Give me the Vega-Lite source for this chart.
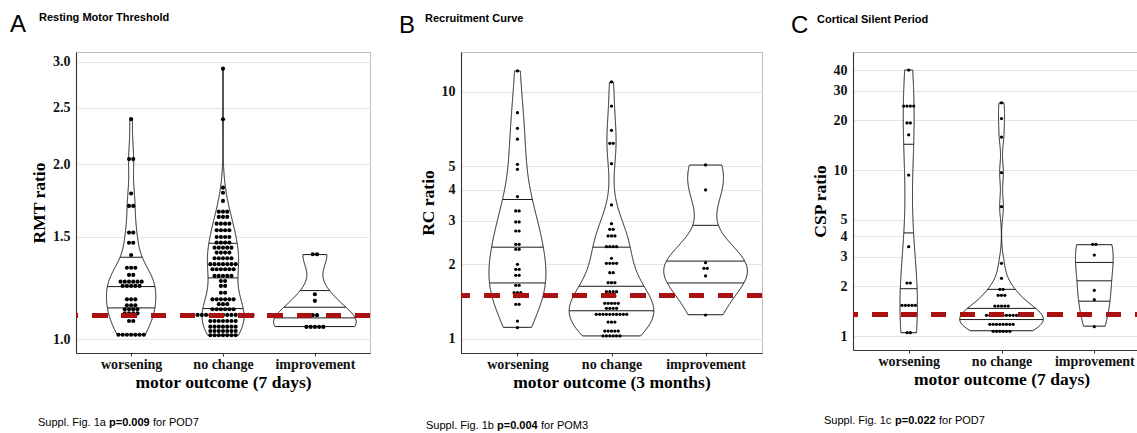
{
"$schema": "https://vega.github.io/schema/vega-lite/v6.json",
"padding": {"left": 10, "top": 11, "right": -9, "bottom": 0},
"background": "white",
"spacing": 26,
"config": {
  "view": {"stroke": "#bdbdbd", "strokeWidth": 1},
  "axis": {"labelFont": "Liberation Serif", "labelFontWeight": "bold", "labelFontSize": 14, "labelColor": "#111", "titleFont": "Liberation Serif", "titleFontWeight": "bold", "titleFontSize": 17.5, "titleColor": "#000", "domainColor": "#333", "domainWidth": 1.1, "tickColor": "#333", "tickSize": 3, "labelPadding": 3, "gridColor": "#e4e4e4", "gridWidth": 1},
  "axisY": {"titlePadding": 4, "ticks": false, "labelPadding": 6},
  "axisX": {"titlePadding": 2, "labelPadding": 1, "grid": false},
  "title": {"color": "#000", "frame": "group", "anchor": "start", "font": "Liberation Sans"}
},
"datasets": {
"A": [
{"outcome":"worsening","ratio":2.39},{"outcome":"worsening","ratio":2.04},{"outcome":"worsening","ratio":2.04},{"outcome":"worsening","ratio":1.78},{"outcome":"worsening","ratio":1.695},{"outcome":"worsening","ratio":1.695},{"outcome":"worsening","ratio":1.525},{"outcome":"worsening","ratio":1.525},{"outcome":"worsening","ratio":1.465},{"outcome":"worsening","ratio":1.465},{"outcome":"worsening","ratio":1.396},{"outcome":"worsening","ratio":1.327},{"outcome":"worsening","ratio":1.327},{"outcome":"worsening","ratio":1.327},{"outcome":"worsening","ratio":1.29},{"outcome":"worsening","ratio":1.29},
{"outcome":"worsening","ratio":1.256},{"outcome":"worsening","ratio":1.256},{"outcome":"worsening","ratio":1.256},{"outcome":"worsening","ratio":1.256},{"outcome":"worsening","ratio":1.256},{"outcome":"worsening","ratio":1.256},
{"outcome":"worsening","ratio":1.235},{"outcome":"worsening","ratio":1.235},{"outcome":"worsening","ratio":1.235},{"outcome":"worsening","ratio":1.235},{"outcome":"worsening","ratio":1.235},
{"outcome":"worsening","ratio":1.171},{"outcome":"worsening","ratio":1.171},{"outcome":"worsening","ratio":1.171},{"outcome":"worsening","ratio":1.144},{"outcome":"worsening","ratio":1.144},{"outcome":"worsening","ratio":1.144},
{"outcome":"worsening","ratio":1.126},{"outcome":"worsening","ratio":1.126},{"outcome":"worsening","ratio":1.126},{"outcome":"worsening","ratio":1.126},{"outcome":"worsening","ratio":1.108},{"outcome":"worsening","ratio":1.108},{"outcome":"worsening","ratio":1.108},{"outcome":"worsening","ratio":1.108},
{"outcome":"worsening","ratio":1.075},{"outcome":"worsening","ratio":1.075},
{"outcome":"worsening","ratio":1.018},{"outcome":"worsening","ratio":1.018},{"outcome":"worsening","ratio":1.018},{"outcome":"worsening","ratio":1.018},{"outcome":"worsening","ratio":1.018},{"outcome":"worsening","ratio":1.018},{"outcome":"worsening","ratio":1.018},
{"outcome":"no change","ratio":2.918},{"outcome":"no change","ratio":2.388},{"outcome":"no change","ratio":1.822},{"outcome":"no change","ratio":1.786},{"outcome":"no change","ratio":1.729},
{"outcome":"no change","ratio":1.657},{"outcome":"no change","ratio":1.657},{"outcome":"no change","ratio":1.657},
{"outcome":"no change","ratio":1.623},{"outcome":"no change","ratio":1.623},{"outcome":"no change","ratio":1.623},
{"outcome":"no change","ratio":1.58},{"outcome":"no change","ratio":1.58},{"outcome":"no change","ratio":1.58},{"outcome":"no change","ratio":1.58},
{"outcome":"no change","ratio":1.539},{"outcome":"no change","ratio":1.539},{"outcome":"no change","ratio":1.539},{"outcome":"no change","ratio":1.539},
{"outcome":"no change","ratio":1.499},{"outcome":"no change","ratio":1.499},{"outcome":"no change","ratio":1.499},{"outcome":"no change","ratio":1.499},
{"outcome":"no change","ratio":1.466},{"outcome":"no change","ratio":1.466},{"outcome":"no change","ratio":1.466},{"outcome":"no change","ratio":1.466},
{"outcome":"no change","ratio":1.437},{"outcome":"no change","ratio":1.437},{"outcome":"no change","ratio":1.437},{"outcome":"no change","ratio":1.437},{"outcome":"no change","ratio":1.437},
{"outcome":"no change","ratio":1.409},{"outcome":"no change","ratio":1.409},{"outcome":"no change","ratio":1.409},{"outcome":"no change","ratio":1.409},
{"outcome":"no change","ratio":1.378},{"outcome":"no change","ratio":1.378},{"outcome":"no change","ratio":1.378},{"outcome":"no change","ratio":1.378},{"outcome":"no change","ratio":1.378},
{"outcome":"no change","ratio":1.346},{"outcome":"no change","ratio":1.346},{"outcome":"no change","ratio":1.346},{"outcome":"no change","ratio":1.346},{"outcome":"no change","ratio":1.346},{"outcome":"no change","ratio":1.346},{"outcome":"no change","ratio":1.346},
{"outcome":"no change","ratio":1.319},{"outcome":"no change","ratio":1.319},{"outcome":"no change","ratio":1.319},{"outcome":"no change","ratio":1.319},{"outcome":"no change","ratio":1.319},{"outcome":"no change","ratio":1.319},
{"outcome":"no change","ratio":1.285},{"outcome":"no change","ratio":1.285},{"outcome":"no change","ratio":1.285},{"outcome":"no change","ratio":1.285},{"outcome":"no change","ratio":1.285},
{"outcome":"no change","ratio":1.259},{"outcome":"no change","ratio":1.259},{"outcome":"no change","ratio":1.235},{"outcome":"no change","ratio":1.235},{"outcome":"no change","ratio":1.202},{"outcome":"no change","ratio":1.202},
{"outcome":"no change","ratio":1.171},{"outcome":"no change","ratio":1.171},{"outcome":"no change","ratio":1.171},{"outcome":"no change","ratio":1.171},{"outcome":"no change","ratio":1.171},{"outcome":"no change","ratio":1.171},
{"outcome":"no change","ratio":1.149},{"outcome":"no change","ratio":1.149},{"outcome":"no change","ratio":1.149},
{"outcome":"no change","ratio":1.126},{"outcome":"no change","ratio":1.126},{"outcome":"no change","ratio":1.126},{"outcome":"no change","ratio":1.126},{"outcome":"no change","ratio":1.126},{"outcome":"no change","ratio":1.126},
{"outcome":"no change","ratio":1.101},{"outcome":"no change","ratio":1.101},{"outcome":"no change","ratio":1.101},{"outcome":"no change","ratio":1.101},{"outcome":"no change","ratio":1.101},{"outcome":"no change","ratio":1.101},{"outcome":"no change","ratio":1.101},{"outcome":"no change","ratio":1.101},{"outcome":"no change","ratio":1.101},{"outcome":"no change","ratio":1.101},{"outcome":"no change","ratio":1.101},{"outcome":"no change","ratio":1.101},{"outcome":"no change","ratio":1.101},{"outcome":"no change","ratio":1.101},{"outcome":"no change","ratio":1.101},
{"outcome":"no change","ratio":1.075},{"outcome":"no change","ratio":1.075},{"outcome":"no change","ratio":1.075},{"outcome":"no change","ratio":1.075},{"outcome":"no change","ratio":1.075},{"outcome":"no change","ratio":1.075},{"outcome":"no change","ratio":1.075},
{"outcome":"no change","ratio":1.051},{"outcome":"no change","ratio":1.051},{"outcome":"no change","ratio":1.051},{"outcome":"no change","ratio":1.051},{"outcome":"no change","ratio":1.051},{"outcome":"no change","ratio":1.051},{"outcome":"no change","ratio":1.051},
{"outcome":"no change","ratio":1.033},{"outcome":"no change","ratio":1.033},{"outcome":"no change","ratio":1.033},{"outcome":"no change","ratio":1.033},{"outcome":"no change","ratio":1.033},{"outcome":"no change","ratio":1.033},{"outcome":"no change","ratio":1.033},
{"outcome":"no change","ratio":1.016},{"outcome":"no change","ratio":1.016},{"outcome":"no change","ratio":1.016},{"outcome":"no change","ratio":1.016},{"outcome":"no change","ratio":1.016},{"outcome":"no change","ratio":1.016},{"outcome":"no change","ratio":1.016},
{"outcome":"improvement","ratio":1.4},{"outcome":"improvement","ratio":1.4},{"outcome":"improvement","ratio":1.195},{"outcome":"improvement","ratio":1.164},{"outcome":"improvement","ratio":1.1},{"outcome":"improvement","ratio":1.1},
{"outcome":"improvement","ratio":1.05},{"outcome":"improvement","ratio":1.05},{"outcome":"improvement","ratio":1.05},{"outcome":"improvement","ratio":1.05},{"outcome":"improvement","ratio":1.05}
],
"B": [
{"outcome":"worsening","ratio":12.13},{"outcome":"worsening","ratio":8.22},{"outcome":"worsening","ratio":7.11},{"outcome":"worsening","ratio":6.42},{"outcome":"worsening","ratio":5.08},{"outcome":"worsening","ratio":4.85},{"outcome":"worsening","ratio":3.76},
{"outcome":"worsening","ratio":3.29},{"outcome":"worsening","ratio":3.29},{"outcome":"worsening","ratio":2.968},{"outcome":"worsening","ratio":2.968},{"outcome":"worsening","ratio":2.729},{"outcome":"worsening","ratio":2.729},{"outcome":"worsening","ratio":2.411},{"outcome":"worsening","ratio":2.411},{"outcome":"worsening","ratio":2.301},{"outcome":"worsening","ratio":2.301},
{"outcome":"worsening","ratio":2.001},{"outcome":"worsening","ratio":1.91},{"outcome":"worsening","ratio":1.91},{"outcome":"worsening","ratio":1.806},{"outcome":"worsening","ratio":1.806},{"outcome":"worsening","ratio":1.645},{"outcome":"worsening","ratio":1.645},
{"outcome":"worsening","ratio":1.536},{"outcome":"worsening","ratio":1.536},{"outcome":"worsening","ratio":1.536},{"outcome":"worsening","ratio":1.48},{"outcome":"worsening","ratio":1.48},{"outcome":"worsening","ratio":1.378},{"outcome":"worsening","ratio":1.378},{"outcome":"worsening","ratio":1.179},{"outcome":"worsening","ratio":1.108},
{"outcome":"no change","ratio":10.95},{"outcome":"no change","ratio":8.75},{"outcome":"no change","ratio":6.98},{"outcome":"no change","ratio":6.18},{"outcome":"no change","ratio":6.18},{"outcome":"no change","ratio":5.11},{"outcome":"no change","ratio":3.48},{"outcome":"no change","ratio":2.921},
{"outcome":"no change","ratio":2.773},{"outcome":"no change","ratio":2.773},{"outcome":"no change","ratio":2.605},{"outcome":"no change","ratio":2.605},{"outcome":"no change","ratio":2.605},
{"outcome":"no change","ratio":2.358},{"outcome":"no change","ratio":2.358},{"outcome":"no change","ratio":2.358},{"outcome":"no change","ratio":2.358},{"outcome":"no change","ratio":2.116},
{"outcome":"no change","ratio":2.019},{"outcome":"no change","ratio":2.019},{"outcome":"no change","ratio":2.019},{"outcome":"no change","ratio":2.019},{"outcome":"no change","ratio":1.85},{"outcome":"no change","ratio":1.85},
{"outcome":"no change","ratio":1.685},{"outcome":"no change","ratio":1.685},{"outcome":"no change","ratio":1.685},{"outcome":"no change","ratio":1.55},{"outcome":"no change","ratio":1.55},{"outcome":"no change","ratio":1.55},{"outcome":"no change","ratio":1.55},
{"outcome":"no change","ratio":1.489},{"outcome":"no change","ratio":1.489},{"outcome":"no change","ratio":1.489},
{"outcome":"no change","ratio":1.391},{"outcome":"no change","ratio":1.391},{"outcome":"no change","ratio":1.391},{"outcome":"no change","ratio":1.391},{"outcome":"no change","ratio":1.391},
{"outcome":"no change","ratio":1.327},{"outcome":"no change","ratio":1.327},{"outcome":"no change","ratio":1.327},{"outcome":"no change","ratio":1.327},
{"outcome":"no change","ratio":1.255},{"outcome":"no change","ratio":1.255},{"outcome":"no change","ratio":1.255},{"outcome":"no change","ratio":1.255},{"outcome":"no change","ratio":1.255},{"outcome":"no change","ratio":1.255},{"outcome":"no change","ratio":1.255},{"outcome":"no change","ratio":1.255},{"outcome":"no change","ratio":1.255},{"outcome":"no change","ratio":1.255},
{"outcome":"no change","ratio":1.168},{"outcome":"no change","ratio":1.168},{"outcome":"no change","ratio":1.168},
{"outcome":"no change","ratio":1.074},{"outcome":"no change","ratio":1.074},{"outcome":"no change","ratio":1.074},{"outcome":"no change","ratio":1.074},{"outcome":"no change","ratio":1.074},
{"outcome":"no change","ratio":1.026},{"outcome":"no change","ratio":1.026},{"outcome":"no change","ratio":1.026},{"outcome":"no change","ratio":1.026},{"outcome":"no change","ratio":1.026},{"outcome":"no change","ratio":1.026},
{"outcome":"improvement","ratio":5.05},{"outcome":"improvement","ratio":4.0},{"outcome":"improvement","ratio":2.031},{"outcome":"improvement","ratio":1.928},{"outcome":"improvement","ratio":1.928},{"outcome":"improvement","ratio":1.794},{"outcome":"improvement","ratio":1.247}
],
"C": [
{"outcome":"worsening","ratio":40},{"outcome":"worsening","ratio":24.3},{"outcome":"worsening","ratio":24.3},{"outcome":"worsening","ratio":24.3},{"outcome":"worsening","ratio":24.3},{"outcome":"worsening","ratio":19.2},{"outcome":"worsening","ratio":19.2},{"outcome":"worsening","ratio":16.3},{"outcome":"worsening","ratio":9.33},{"outcome":"worsening","ratio":3.45},
{"outcome":"worsening","ratio":2.086},{"outcome":"worsening","ratio":2.086},{"outcome":"worsening","ratio":1.531},{"outcome":"worsening","ratio":1.531},{"outcome":"worsening","ratio":1.531},{"outcome":"worsening","ratio":1.531},{"outcome":"worsening","ratio":1.531},
{"outcome":"worsening","ratio":1.363},{"outcome":"worsening","ratio":1.363},{"outcome":"worsening","ratio":1.363},{"outcome":"worsening","ratio":1.363},{"outcome":"worsening","ratio":1.047},{"outcome":"worsening","ratio":1.047},
{"outcome":"no change","ratio":25.4},{"outcome":"no change","ratio":20.4},{"outcome":"no change","ratio":15.8},{"outcome":"no change","ratio":9.63},{"outcome":"no change","ratio":6.01},{"outcome":"no change","ratio":2.74},{"outcome":"no change","ratio":2.226},
{"outcome":"no change","ratio":1.911},{"outcome":"no change","ratio":1.911},{"outcome":"no change","ratio":1.758},{"outcome":"no change","ratio":1.758},{"outcome":"no change","ratio":1.758},
{"outcome":"no change","ratio":1.516},{"outcome":"no change","ratio":1.516},{"outcome":"no change","ratio":1.516},{"outcome":"no change","ratio":1.516},{"outcome":"no change","ratio":1.516},
{"outcome":"no change","ratio":1.333},{"outcome":"no change","ratio":1.333},{"outcome":"no change","ratio":1.333},{"outcome":"no change","ratio":1.333},{"outcome":"no change","ratio":1.333},{"outcome":"no change","ratio":1.333},{"outcome":"no change","ratio":1.333},{"outcome":"no change","ratio":1.333},{"outcome":"no change","ratio":1.333},{"outcome":"no change","ratio":1.333},
{"outcome":"no change","ratio":1.176},{"outcome":"no change","ratio":1.176},{"outcome":"no change","ratio":1.176},{"outcome":"no change","ratio":1.176},{"outcome":"no change","ratio":1.176},{"outcome":"no change","ratio":1.176},{"outcome":"no change","ratio":1.176},{"outcome":"no change","ratio":1.176},
{"outcome":"no change","ratio":1.067},{"outcome":"no change","ratio":1.067},{"outcome":"no change","ratio":1.067},{"outcome":"no change","ratio":1.067},{"outcome":"no change","ratio":1.067},{"outcome":"no change","ratio":1.067},
{"outcome":"improvement","ratio":3.57},{"outcome":"improvement","ratio":3.57},{"outcome":"improvement","ratio":3.075},{"outcome":"improvement","ratio":1.885},{"outcome":"improvement","ratio":1.654},{"outcome":"improvement","ratio":1.138}
]
},
"hconcat": [
{
 "title": {"text": "A", "fontSize": 24, "fontWeight": "normal", "dx": -66, "offset": -25.6},
 "vconcat": [{
  "title": {"text": "for POD7", "orient": "bottom", "fontSize": 11, "fontWeight": "normal", "dx": 77, "offset": -11},
  "vconcat": [{
   "title": {"text": "p=0.009", "orient": "bottom", "fontSize": 11, "fontWeight": "bold", "dx": 33, "offset": -11},
   "vconcat": [{
    "title": {"text": "Suppl. Fig. 1a", "orient": "bottom", "fontSize": 11, "fontWeight": "normal", "dx": -38, "offset": 26},
    "vconcat": [{
     "title": {"text": "Resting Motor Threshold", "fontSize": 11, "fontWeight": "bold", "dx": -37, "offset": 28.9},
     "width": 294, "height": 301,
     "data": {"name": "A"},
     "layer": [
      {
       "transform": [
        {"calculate": "log(datum.ratio) / LN10", "as": "lr"},
        {"joinaggregate": [{"op": "min", "field": "lr", "as": "mn"}, {"op": "max", "field": "lr", "as": "mx"}], "groupby": ["outcome"]},
        {"density": "lr", "groupby": ["outcome", "mn", "mx"], "steps": 400, "as": ["lv", "dens"]},
        {"filter": "datum.lv >= datum.mn - 1e-9 && datum.lv <= datum.mx + 1e-9"},
        {"joinaggregate": [{"op": "max", "field": "dens", "as": "maxd"}]},
        {"calculate": "indexof(['worsening', 'no change', 'improvement'], datum.outcome) + 1", "as": "ci"},
        {"calculate": "datum.ci - 0.45 * datum.dens / datum.maxd", "as": "xl"},
        {"calculate": "datum.ci + 0.45 * datum.dens / datum.maxd", "as": "xr"},
        {"calculate": "pow(10, datum.lv)", "as": "yv"}
       ],
       "mark": {"type": "area", "orient": "horizontal", "fill": "white", "stroke": "#1a1a1a", "strokeWidth": 1},
       "encoding": {
        "y": {"field": "yv", "type": "quantitative", "scale": {"type": "log", "domain": [0.947, 3.117], "nice": false}, "axis": {"title": "RMT ratio", "values": [1, 1.5, 2, 2.5, 3], "format": ".1f", "grid": true}},
        "x": {"field": "xl", "type": "quantitative", "scale": {"domain": [0.4, 3.6], "nice": false, "zero": false}, "axis": {"title": "motor outcome (7 days)", "values": [1, 2, 3], "labelExpr": "['worsening', 'no change', 'improvement'][datum.value - 1]", "labelFlush": false, "grid": false}},
        "x2": {"field": "xr"},
        "detail": {"field": "outcome"}
       }
      },
      {
       "transform": [
        {"calculate": "log(datum.ratio) / LN10", "as": "lr"},
        {"joinaggregate": [{"op": "min", "field": "lr", "as": "mn"}, {"op": "max", "field": "lr", "as": "mx"}], "groupby": ["outcome"]},
        {"density": "lr", "groupby": ["outcome", "mn", "mx"], "steps": 400, "as": ["lv", "dens"]},
        {"filter": "datum.lv >= datum.mn - 1e-9 && datum.lv <= datum.mx + 1e-9"},
        {"joinaggregate": [{"op": "max", "field": "dens", "as": "maxd"}]},
        {"window": [{"op": "sum", "field": "dens", "as": "cum"}], "groupby": ["outcome"], "sort": [{"field": "lv"}]},
        {"joinaggregate": [{"op": "sum", "field": "dens", "as": "tot"}], "groupby": ["outcome"]},
        {"calculate": "datum.cum / datum.tot", "as": "cdf"},
        {"window": [{"op": "lag", "field": "cdf", "as": "pcdf"}], "groupby": ["outcome"], "sort": [{"field": "lv"}]},
        {"filter": "(datum.pcdf < 0.25 && datum.cdf >= 0.25) || (datum.pcdf < 0.5 && datum.cdf >= 0.5) || (datum.pcdf < 0.75 && datum.cdf >= 0.75)"},
        {"calculate": "indexof(['worsening', 'no change', 'improvement'], datum.outcome) + 1", "as": "ci"},
        {"calculate": "datum.ci - 0.45 * datum.dens / datum.maxd", "as": "xl"},
        {"calculate": "datum.ci + 0.45 * datum.dens / datum.maxd", "as": "xr"},
        {"calculate": "pow(10, datum.lv)", "as": "yv"}
       ],
       "mark": {"type": "rule", "stroke": "#1a1a1a", "strokeWidth": 1},
       "encoding": {
        "y": {"field": "yv", "type": "quantitative", "scale": {"type": "log", "domain": [0.947, 3.117], "nice": false}, "axis": {"title": "RMT ratio", "values": [1, 1.5, 2, 2.5, 3], "format": ".1f", "grid": true}},
        "x": {"field": "xl", "type": "quantitative", "scale": {"domain": [0.4, 3.6], "nice": false, "zero": false}, "axis": {"title": "motor outcome (7 days)", "values": [1, 2, 3], "labelExpr": "['worsening', 'no change', 'improvement'][datum.value - 1]", "labelFlush": false, "grid": false}},
        "x2": {"field": "xr"}
       }
      },
      {
       "transform": [
        {"calculate": "indexof(['worsening', 'no change', 'improvement'], datum.outcome) + 1", "as": "ci"},
        {"window": [{"op": "row_number", "as": "k"}], "groupby": ["outcome", "ratio"]},
        {"joinaggregate": [{"op": "count", "as": "n"}], "groupby": ["outcome", "ratio"]},
        {"calculate": "datum.ci + (datum.k - (datum.n + 1) / 2) * 0.046", "as": "xp"}
       ],
       "mark": {"type": "circle", "fill": "#000", "opacity": 1, "size": 17},
       "encoding": {
        "y": {"field": "ratio", "type": "quantitative", "scale": {"type": "log", "domain": [0.947, 3.117], "nice": false}, "axis": {"title": "RMT ratio", "values": [1, 1.5, 2, 2.5, 3], "format": ".1f", "grid": true}},
        "x": {"field": "xp", "type": "quantitative", "scale": {"domain": [0.4, 3.6], "nice": false, "zero": false}, "axis": {"title": "motor outcome (7 days)", "values": [1, 2, 3], "labelExpr": "['worsening', 'no change', 'improvement'][datum.value - 1]", "labelFlush": false, "grid": false}}
       }
      },
      {
       "mark": {"type": "rule", "stroke": "#aa1111", "strokeWidth": 4, "strokeDash": [14.6, 14.6]},
       "encoding": {"y": {"datum": 1.1, "type": "quantitative", "scale": {"type": "log", "domain": [0.947, 3.117], "nice": false}, "axis": {"title": "RMT ratio", "values": [1, 1.5, 2, 2.5, 3], "format": ".1f", "grid": true}}}
      }
     ]
    }]
   }]
  }]
 }]
},
{
 "title": {"text": "B", "fontSize": 24, "fontWeight": "normal", "dx": -62, "offset": -25.8},
 "vconcat": [{
  "title": {"text": "for POM3", "orient": "bottom", "fontSize": 11, "fontWeight": "normal", "dx": 80, "offset": -11},
  "vconcat": [{
   "title": {"text": "p=0.004", "orient": "bottom", "fontSize": 11, "fontWeight": "bold", "dx": 36, "offset": -11},
   "vconcat": [{
    "title": {"text": "Suppl. Fig. 1b", "orient": "bottom", "fontSize": 11, "fontWeight": "normal", "dx": -35, "offset": 29},
    "vconcat": [{
     "title": {"text": "Recruitment Curve", "fontSize": 11, "fontWeight": "bold", "dx": -36, "offset": 28.2},
     "width": 301, "height": 301,
     "data": {"name": "B"},
     "layer": [
      {
       "transform": [
        {"calculate": "log(datum.ratio) / LN10", "as": "lr"},
        {"joinaggregate": [{"op": "min", "field": "lr", "as": "mn"}, {"op": "max", "field": "lr", "as": "mx"}], "groupby": ["outcome"]},
        {"density": "lr", "groupby": ["outcome", "mn", "mx"], "steps": 400, "as": ["lv", "dens"]},
        {"filter": "datum.lv >= datum.mn - 1e-9 && datum.lv <= datum.mx + 1e-9"},
        {"joinaggregate": [{"op": "max", "field": "dens", "as": "maxd"}]},
        {"calculate": "indexof(['worsening', 'no change', 'improvement'], datum.outcome) + 1", "as": "ci"},
        {"calculate": "datum.ci - 0.45 * datum.dens / datum.maxd", "as": "xl"},
        {"calculate": "datum.ci + 0.45 * datum.dens / datum.maxd", "as": "xr"},
        {"calculate": "pow(10, datum.lv)", "as": "yv"}
       ],
       "mark": {"type": "area", "orient": "horizontal", "fill": "white", "stroke": "#1a1a1a", "strokeWidth": 1},
       "encoding": {
        "y": {"field": "yv", "type": "quantitative", "scale": {"type": "log", "domain": [0.875, 14.48], "nice": false}, "axis": {"title": "RC ratio", "values": [1, 2, 3, 4, 5, 10], "format": "d", "grid": true}},
        "x": {"field": "xl", "type": "quantitative", "scale": {"domain": [0.4, 3.6], "nice": false, "zero": false}, "axis": {"title": "motor outcome (3 months)", "values": [1, 2, 3], "labelExpr": "['worsening', 'no change', 'improvement'][datum.value - 1]", "labelFlush": false, "grid": false}},
        "x2": {"field": "xr"},
        "detail": {"field": "outcome"}
       }
      },
      {
       "transform": [
        {"calculate": "log(datum.ratio) / LN10", "as": "lr"},
        {"joinaggregate": [{"op": "min", "field": "lr", "as": "mn"}, {"op": "max", "field": "lr", "as": "mx"}], "groupby": ["outcome"]},
        {"density": "lr", "groupby": ["outcome", "mn", "mx"], "steps": 400, "as": ["lv", "dens"]},
        {"filter": "datum.lv >= datum.mn - 1e-9 && datum.lv <= datum.mx + 1e-9"},
        {"joinaggregate": [{"op": "max", "field": "dens", "as": "maxd"}]},
        {"window": [{"op": "sum", "field": "dens", "as": "cum"}], "groupby": ["outcome"], "sort": [{"field": "lv"}]},
        {"joinaggregate": [{"op": "sum", "field": "dens", "as": "tot"}], "groupby": ["outcome"]},
        {"calculate": "datum.cum / datum.tot", "as": "cdf"},
        {"window": [{"op": "lag", "field": "cdf", "as": "pcdf"}], "groupby": ["outcome"], "sort": [{"field": "lv"}]},
        {"filter": "(datum.pcdf < 0.25 && datum.cdf >= 0.25) || (datum.pcdf < 0.5 && datum.cdf >= 0.5) || (datum.pcdf < 0.75 && datum.cdf >= 0.75)"},
        {"calculate": "indexof(['worsening', 'no change', 'improvement'], datum.outcome) + 1", "as": "ci"},
        {"calculate": "datum.ci - 0.45 * datum.dens / datum.maxd", "as": "xl"},
        {"calculate": "datum.ci + 0.45 * datum.dens / datum.maxd", "as": "xr"},
        {"calculate": "pow(10, datum.lv)", "as": "yv"}
       ],
       "mark": {"type": "rule", "stroke": "#1a1a1a", "strokeWidth": 1},
       "encoding": {
        "y": {"field": "yv", "type": "quantitative", "scale": {"type": "log", "domain": [0.875, 14.48], "nice": false}, "axis": {"title": "RC ratio", "values": [1, 2, 3, 4, 5, 10], "format": "d", "grid": true}},
        "x": {"field": "xl", "type": "quantitative", "scale": {"domain": [0.4, 3.6], "nice": false, "zero": false}, "axis": {"title": "motor outcome (3 months)", "values": [1, 2, 3], "labelExpr": "['worsening', 'no change', 'improvement'][datum.value - 1]", "labelFlush": false, "grid": false}},
        "x2": {"field": "xr"}
       }
      },
      {
       "transform": [
        {"calculate": "indexof(['worsening', 'no change', 'improvement'], datum.outcome) + 1", "as": "ci"},
        {"window": [{"op": "row_number", "as": "k"}], "groupby": ["outcome", "ratio"]},
        {"joinaggregate": [{"op": "count", "as": "n"}], "groupby": ["outcome", "ratio"]},
        {"calculate": "datum.ci + (datum.k - (datum.n + 1) / 2) * 0.036", "as": "xp"}
       ],
       "mark": {"type": "circle", "fill": "#000", "opacity": 1, "size": 10.5},
       "encoding": {
        "y": {"field": "ratio", "type": "quantitative", "scale": {"type": "log", "domain": [0.875, 14.48], "nice": false}, "axis": {"title": "RC ratio", "values": [1, 2, 3, 4, 5, 10], "format": "d", "grid": true}},
        "x": {"field": "xp", "type": "quantitative", "scale": {"domain": [0.4, 3.6], "nice": false, "zero": false}, "axis": {"title": "motor outcome (3 months)", "values": [1, 2, 3], "labelExpr": "['worsening', 'no change', 'improvement'][datum.value - 1]", "labelFlush": false, "grid": false}}
       }
      },
      {
       "mark": {"type": "rule", "stroke": "#aa1111", "strokeWidth": 4, "strokeDash": [14.6, 14.6]},
       "encoding": {"y": {"datum": 1.5, "type": "quantitative", "scale": {"type": "log", "domain": [0.875, 14.48], "nice": false}, "axis": {"title": "RC ratio", "values": [1, 2, 3, 4, 5, 10], "format": "d", "grid": true}}}
      }
     ]
    }]
   }]
  }]
 }]
},
{
 "title": {"text": "C", "fontSize": 24, "fontWeight": "normal", "dx": -62, "offset": -25.1},
 "vconcat": [{
  "title": {"text": "for POD7", "orient": "bottom", "fontSize": 11, "fontWeight": "normal", "dx": 86, "offset": -11},
  "vconcat": [{
   "title": {"text": "p=0.022", "orient": "bottom", "fontSize": 11, "fontWeight": "bold", "dx": 42, "offset": -11},
   "vconcat": [{
    "title": {"text": "Suppl. Fig. 1c", "orient": "bottom", "fontSize": 11, "fontWeight": "normal", "dx": -29, "offset": 27},
    "vconcat": [{
     "title": {"text": "Cortical Silent Period", "fontSize": 11, "fontWeight": "bold", "dx": -36, "offset": 27.2},
     "width": 297, "height": 298,
     "data": {"name": "C"},
     "layer": [
      {
       "transform": [
        {"calculate": "log(datum.ratio) / LN10", "as": "lr"},
        {"joinaggregate": [{"op": "min", "field": "lr", "as": "mn"}, {"op": "max", "field": "lr", "as": "mx"}], "groupby": ["outcome"]},
        {"density": "lr", "groupby": ["outcome", "mn", "mx"], "steps": 400, "as": ["lv", "dens"]},
        {"filter": "datum.lv >= datum.mn - 1e-9 && datum.lv <= datum.mx + 1e-9"},
        {"joinaggregate": [{"op": "max", "field": "dens", "as": "maxd"}]},
        {"calculate": "indexof(['worsening', 'no change', 'improvement'], datum.outcome) + 1", "as": "ci"},
        {"calculate": "datum.ci - 0.45 * datum.dens / datum.maxd", "as": "xl"},
        {"calculate": "datum.ci + 0.45 * datum.dens / datum.maxd", "as": "xr"},
        {"calculate": "pow(10, datum.lv)", "as": "yv"}
       ],
       "mark": {"type": "area", "orient": "horizontal", "fill": "white", "stroke": "#1a1a1a", "strokeWidth": 1},
       "encoding": {
        "y": {"field": "yv", "type": "quantitative", "scale": {"type": "log", "domain": [0.8235, 51.4], "nice": false}, "axis": {"title": "CSP ratio", "values": [1, 2, 3, 4, 5, 10, 20, 30, 40], "format": "d", "grid": true}},
        "x": {"field": "xl", "type": "quantitative", "scale": {"domain": [0.4, 3.6], "nice": false, "zero": false}, "axis": {"title": "motor outcome (7 days)", "values": [1, 2, 3], "labelExpr": "['worsening', 'no change', 'improvement'][datum.value - 1]", "labelFlush": false, "grid": false}},
        "x2": {"field": "xr"},
        "detail": {"field": "outcome"}
       }
      },
      {
       "transform": [
        {"calculate": "log(datum.ratio) / LN10", "as": "lr"},
        {"joinaggregate": [{"op": "min", "field": "lr", "as": "mn"}, {"op": "max", "field": "lr", "as": "mx"}], "groupby": ["outcome"]},
        {"density": "lr", "groupby": ["outcome", "mn", "mx"], "steps": 400, "as": ["lv", "dens"]},
        {"filter": "datum.lv >= datum.mn - 1e-9 && datum.lv <= datum.mx + 1e-9"},
        {"joinaggregate": [{"op": "max", "field": "dens", "as": "maxd"}]},
        {"window": [{"op": "sum", "field": "dens", "as": "cum"}], "groupby": ["outcome"], "sort": [{"field": "lv"}]},
        {"joinaggregate": [{"op": "sum", "field": "dens", "as": "tot"}], "groupby": ["outcome"]},
        {"calculate": "datum.cum / datum.tot", "as": "cdf"},
        {"window": [{"op": "lag", "field": "cdf", "as": "pcdf"}], "groupby": ["outcome"], "sort": [{"field": "lv"}]},
        {"filter": "(datum.pcdf < 0.25 && datum.cdf >= 0.25) || (datum.pcdf < 0.5 && datum.cdf >= 0.5) || (datum.pcdf < 0.75 && datum.cdf >= 0.75)"},
        {"calculate": "indexof(['worsening', 'no change', 'improvement'], datum.outcome) + 1", "as": "ci"},
        {"calculate": "datum.ci - 0.45 * datum.dens / datum.maxd", "as": "xl"},
        {"calculate": "datum.ci + 0.45 * datum.dens / datum.maxd", "as": "xr"},
        {"calculate": "pow(10, datum.lv)", "as": "yv"}
       ],
       "mark": {"type": "rule", "stroke": "#1a1a1a", "strokeWidth": 1},
       "encoding": {
        "y": {"field": "yv", "type": "quantitative", "scale": {"type": "log", "domain": [0.8235, 51.4], "nice": false}, "axis": {"title": "CSP ratio", "values": [1, 2, 3, 4, 5, 10, 20, 30, 40], "format": "d", "grid": true}},
        "x": {"field": "xl", "type": "quantitative", "scale": {"domain": [0.4, 3.6], "nice": false, "zero": false}, "axis": {"title": "motor outcome (7 days)", "values": [1, 2, 3], "labelExpr": "['worsening', 'no change', 'improvement'][datum.value - 1]", "labelFlush": false, "grid": false}},
        "x2": {"field": "xr"}
       }
      },
      {
       "transform": [
        {"calculate": "indexof(['worsening', 'no change', 'improvement'], datum.outcome) + 1", "as": "ci"},
        {"window": [{"op": "row_number", "as": "k"}], "groupby": ["outcome", "ratio"]},
        {"joinaggregate": [{"op": "count", "as": "n"}], "groupby": ["outcome", "ratio"]},
        {"calculate": "datum.ci + (datum.k - (datum.n + 1) / 2) * 0.036", "as": "xp"}
       ],
       "mark": {"type": "circle", "fill": "#000", "opacity": 1, "size": 10.5},
       "encoding": {
        "y": {"field": "ratio", "type": "quantitative", "scale": {"type": "log", "domain": [0.8235, 51.4], "nice": false}, "axis": {"title": "CSP ratio", "values": [1, 2, 3, 4, 5, 10, 20, 30, 40], "format": "d", "grid": true}},
        "x": {"field": "xp", "type": "quantitative", "scale": {"domain": [0.4, 3.6], "nice": false, "zero": false}, "axis": {"title": "motor outcome (7 days)", "values": [1, 2, 3], "labelExpr": "['worsening', 'no change', 'improvement'][datum.value - 1]", "labelFlush": false, "grid": false}}
       }
      },
      {
       "mark": {"type": "rule", "stroke": "#aa1111", "strokeWidth": 4, "strokeDash": [14.6, 14.6]},
       "encoding": {"y": {"datum": 1.35, "type": "quantitative", "scale": {"type": "log", "domain": [0.8235, 51.4], "nice": false}, "axis": {"title": "CSP ratio", "values": [1, 2, 3, 4, 5, 10, 20, 30, 40], "format": "d", "grid": true}}}
      }
     ]
    }]
   }]
  }]
 }]
}
]
}
